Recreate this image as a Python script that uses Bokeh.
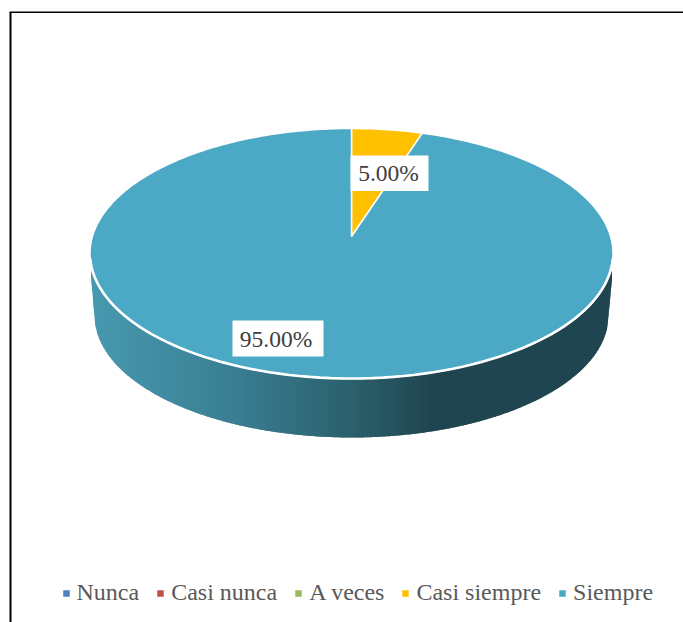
import math
from bokeh.plotting import figure
from bokeh.models import Range1d, Legend, LegendItem
from bokeh.embed import file_html
from bokeh.resources import INLINE
from bokeh.core.properties import value

# Data
categories = ["Nunca", "Casi nunca", "A veces", "Casi siempre", "Siempre"]
percent_values = [0.0, 0.0, 0.0, 5.0, 95.0]
slice_colors = ["#4F81BD", "#C0504D", "#9BBB59", "#FFC000", "#4BA9C5"]
label_texts = ["5.00%", "95.00%"]

# Page geometry (figure units equal page pixels)
W, H = 683, 622
CX = 351.0
Y_TOP, Y_APEX, Y_BOT = 128.0, 236.0, 378.0
TOP_RX = 261.5
LOW_RX, LOW_RY, LOW_CY = 257.0, 122.0, 315.0

# Perspective map of the unit disc onto the slanted pie top
a = (2 * Y_APEX - Y_TOP - Y_BOT) / (Y_TOP - Y_BOT)
c = Y_TOP * (1 + a) - Y_APEX
k = TOP_RX * math.sqrt(1 - a * a)


def disc(theta, r=1.0):
    u, v = r * math.sin(theta), r * math.cos(theta)
    w = 1 + a * v
    return CX + k * u / w, (Y_APEX + c * v) / w


def slice_outline(start, end):
    n = max(2, int((end - start) * 60))
    pts = [disc(0, 0)]
    for i in range(n + 1):
        pts.append(disc(start + (end - start) * i / n))
    return [p[0] for p in pts], [p[1] for p in pts]


GRAD = [(91, (0x47, 0x99, 0xB0)), (230, (0x3A, 0x7F, 0x93)), (350, (0x2B, 0x60, 0x6D)),
        (430, (0x1F, 0x46, 0x50)), (613, (0x1F, 0x46, 0x50))]


def shade(x):
    for (x1, c1), (x2, c2) in zip(GRAD, GRAD[1:]):
        if x <= x2:
            t = max(0.0, (x - x1) / (x2 - x1))
            return "#%02x%02x%02x" % tuple(round(p + (q - p) * t) for p, q in zip(c1, c2))
    return "#1f4650"


def low_edge(x):
    d = abs(x - CX)
    if d <= LOW_RX:
        return LOW_CY + LOW_RY * math.sqrt(1 - (d / LOW_RX) ** 2)
    return LOW_CY - (d - LOW_RX) / (TOP_RX - 0.5 - LOW_RX) * (LOW_CY - 272)


p = figure(width=W, height=H, output_backend="svg", toolbar_location=None,
           x_range=Range1d(0, W), y_range=Range1d(H, 0),
           min_border=0, outline_line_color=None, background_fill_color="white",
           border_fill_color="white")
p.axis.visible = False
p.grid.visible = False

# Frame of the chart: only top and left sides lie within the picture
p.line([10, 10], [H, 11.8], line_color="black", line_width=2)
p.line([9, W], [11.8, 11.8], line_color="black", line_width=1.6)

# Side wall with gradient: each strip runs under the next so no seams show
xs, ys, cols = [], [], []
x = CX - 260.5
step = 2.0
while x < CX + 260.5:
    x2 = min(x + step, CX + 260.5)
    x3 = min(x2 + 1.5, CX + 260.5)
    xs.append([x, x3, x3, x2, x])
    ys.append([253, 253, low_edge(x3), low_edge(x2), low_edge(x)])
    cols.append(shade((x + x2) / 2))
    x = x2
p.patches(xs, ys, fill_color=cols, line_color=None)

# Slices
total = sum(percent_values)
angle = 0.0
items = []
for name, val, col in zip(categories, percent_values, slice_colors):
    sweep = val / total * 2 * math.pi
    sx, sy = slice_outline(angle, angle + sweep)
    r = p.patch(sx, sy, fill_color=col, line_color="white", line_width=1.5)
    items.append(LegendItem(label=name, renderers=[r]))
    angle += sweep

# Heavier white rim where the top meets the side wall
rim = [disc(math.radians(d)) for d in range(100, 261, 2)]
p.line([q[0] for q in rim], [q[1] for q in rim], line_color="white", line_width=2.6)

# Data labels
box_x = [389.0, 277.5]
box_y = [172.8, 338.0]
txt_x = [388.0, 275.5]
p.rect(box_x, box_y, width=[78, 91], height=[35.5, 36], fill_color="white", line_color=None)
p.text(txt_x, box_y, text=label_texts, text_font=value("Liberation Serif"),
       text_font_size="23.5px", text_color="#404040", text_align="center", text_baseline="middle")

legend = Legend(items=items, orientation="horizontal", location=(60.5, 16),
                background_fill_alpha=0, border_line_color=None, margin=0, padding=0,
                glyph_width=10, glyph_height=10, label_standoff=6, spacing=16,
                label_text_font="Liberation Serif", label_text_font_size="24px",
                label_text_color="#595959", label_height=24)
p.add_layout(legend, "center")

open("out.html", "w").write(file_html(p, INLINE))
